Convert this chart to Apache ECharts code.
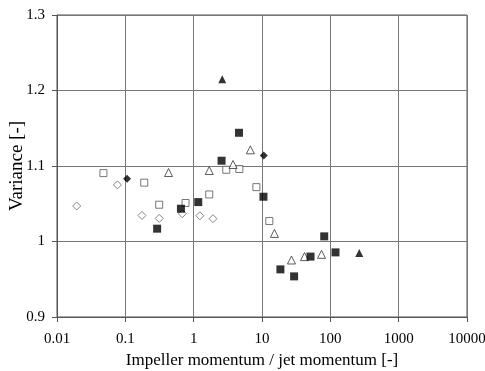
<!DOCTYPE html>
<html>
<head>
<meta charset="utf-8">
<script src="https://cdn.jsdelivr.net/npm/echarts@6/dist/echarts.min.js"></script>
<style>html,body{margin:0;padding:0;background:#fff}#c{width:485px;height:371px}</style>
</head>
<body>
<div id="c"></div>
<script>
// x: impeller momentum / jet momentum, y: variance
const openDiamondX = [0.0194, 0.0766, 0.175, 0.313, 0.681, 1.235, 1.918];
const openDiamondY = [1.047, 1.075, 1.0345, 1.0306, 1.0368, 1.0341, 1.0302];
const filledDiamondX = [0.106, 10.6];
const filledDiamondY = [1.083, 1.114];
const openSquareX = [0.0478, 0.189, 0.313, 0.761, 1.69, 3.0, 4.66, 8.28, 12.8];
const openSquareY = [1.0906, 1.078, 1.0487, 1.051, 1.0623, 1.095, 1.096, 1.072, 1.0271];
const filledSquareX = [0.292, 0.651, 1.167, 2.56, 4.61, 10.5, 18.6, 29.5, 51.3, 81.4, 119];
const filledSquareY = [1.017, 1.0434, 1.0522, 1.107, 1.144, 1.0593, 0.9631, 0.9538, 0.980, 1.0068, 0.9856];
const openTriangleX = [0.429, 1.69, 3.77, 6.76, 15.2, 27.0, 41.9, 74.3];
const openTriangleY = [1.0914, 1.094, 1.102, 1.1214, 1.0107, 0.9755, 0.980, 0.983];
const filledTriangleX = [2.62, 265];
const filledTriangleY = [1.215, 0.9848];
const xTickLabels = ['0.01', '0.1', '1', '10', '100', '1000', '10000'];
const yTickLabels = ['0.9', '1', '1.1', '1.2', '1.3'];

const pair = (xs, ys) => xs.map((x, i) => [x, ys[i]]);
const font = 'Liberation Serif';

function sc(name, xs, ys, symbol, size, filled, border) {
  return {
    name: name, type: 'scatter', data: pair(xs, ys), symbol: symbol, symbolSize: size,
    itemStyle: filled ? { color: '#000', borderColor: '#000', borderWidth: 0 }
                      : { color: '#fff', borderColor: border, borderWidth: 1 },
    emphasis: { disabled: true }, z: 3
  };
}

const chart = echarts.init(document.getElementById('c'), null, { renderer: 'canvas' });
chart.setOption({
  animation: false,
  grid: { left: 57, right: 18, top: 15, bottom: 54, containLabel: false, outerBoundsMode: 'none',
          show: true, borderColor: '#555', borderWidth: 1, backgroundColor: 'transparent' },
  xAxis: {
    type: 'log', logBase: 10, min: 0.01, max: 10000,
    name: 'Impeller momentum / jet momentum [-]', nameLocation: 'middle', nameGap: 35,
    nameMoveOverlap: false,
    nameTextStyle: { fontFamily: font, fontSize: 17, color: '#000' },
    axisLine: { show: true, lineStyle: { color: '#555', width: 1 } },
    axisTick: { show: true, inside: false, length: 5, lineStyle: { color: '#555' } },
    minorTick: { show: false },
    axisLabel: {
      fontFamily: font, fontSize: 15, color: '#000', margin: 15,
      formatter: function (v) {
        const e = Math.round(Math.log10(v));
        return xTickLabels[e + 2];
      }
    },
    splitLine: { show: true, lineStyle: { color: '#777', width: 1 } }
  },
  yAxis: {
    type: 'value', min: 0.9, max: 1.3, interval: 0.1,
    name: 'Variance [-]', nameLocation: 'middle', nameGap: 30, nameRotate: 90,
    nameMoveOverlap: false,
    nameTextStyle: { fontFamily: font, fontSize: 19, color: '#000' },
    axisLine: { show: true, lineStyle: { color: '#555', width: 1 } },
    axisTick: { show: true, inside: false, length: 5, lineStyle: { color: '#555' } },
    axisLabel: {
      fontFamily: font, fontSize: 15, color: '#000', margin: 12,
      formatter: function (v) {
        const i = Math.round((v - 0.9) / 0.1);
        return yTickLabels[i];
      }
    },
    splitLine: { show: true, lineStyle: { color: '#777', width: 1 } }
  },
  series: [
    sc('open diamond', openDiamondX, openDiamondY, 'diamond', 8, false, '#666'),
    sc('open square', openSquareX, openSquareY, 'rect', 7, false, '#555'),
    sc('open triangle', openTriangleX, openTriangleY, 'triangle', 8, false, '#333'),
    sc('filled square', filledSquareX, filledSquareY, 'rect', 8, true),
    sc('filled diamond', filledDiamondX, filledDiamondY, 'diamond', 8, true),
    sc('filled triangle', filledTriangleX, filledTriangleY, 'triangle', 8, true)
  ]
});
</script>
</body>
</html>
